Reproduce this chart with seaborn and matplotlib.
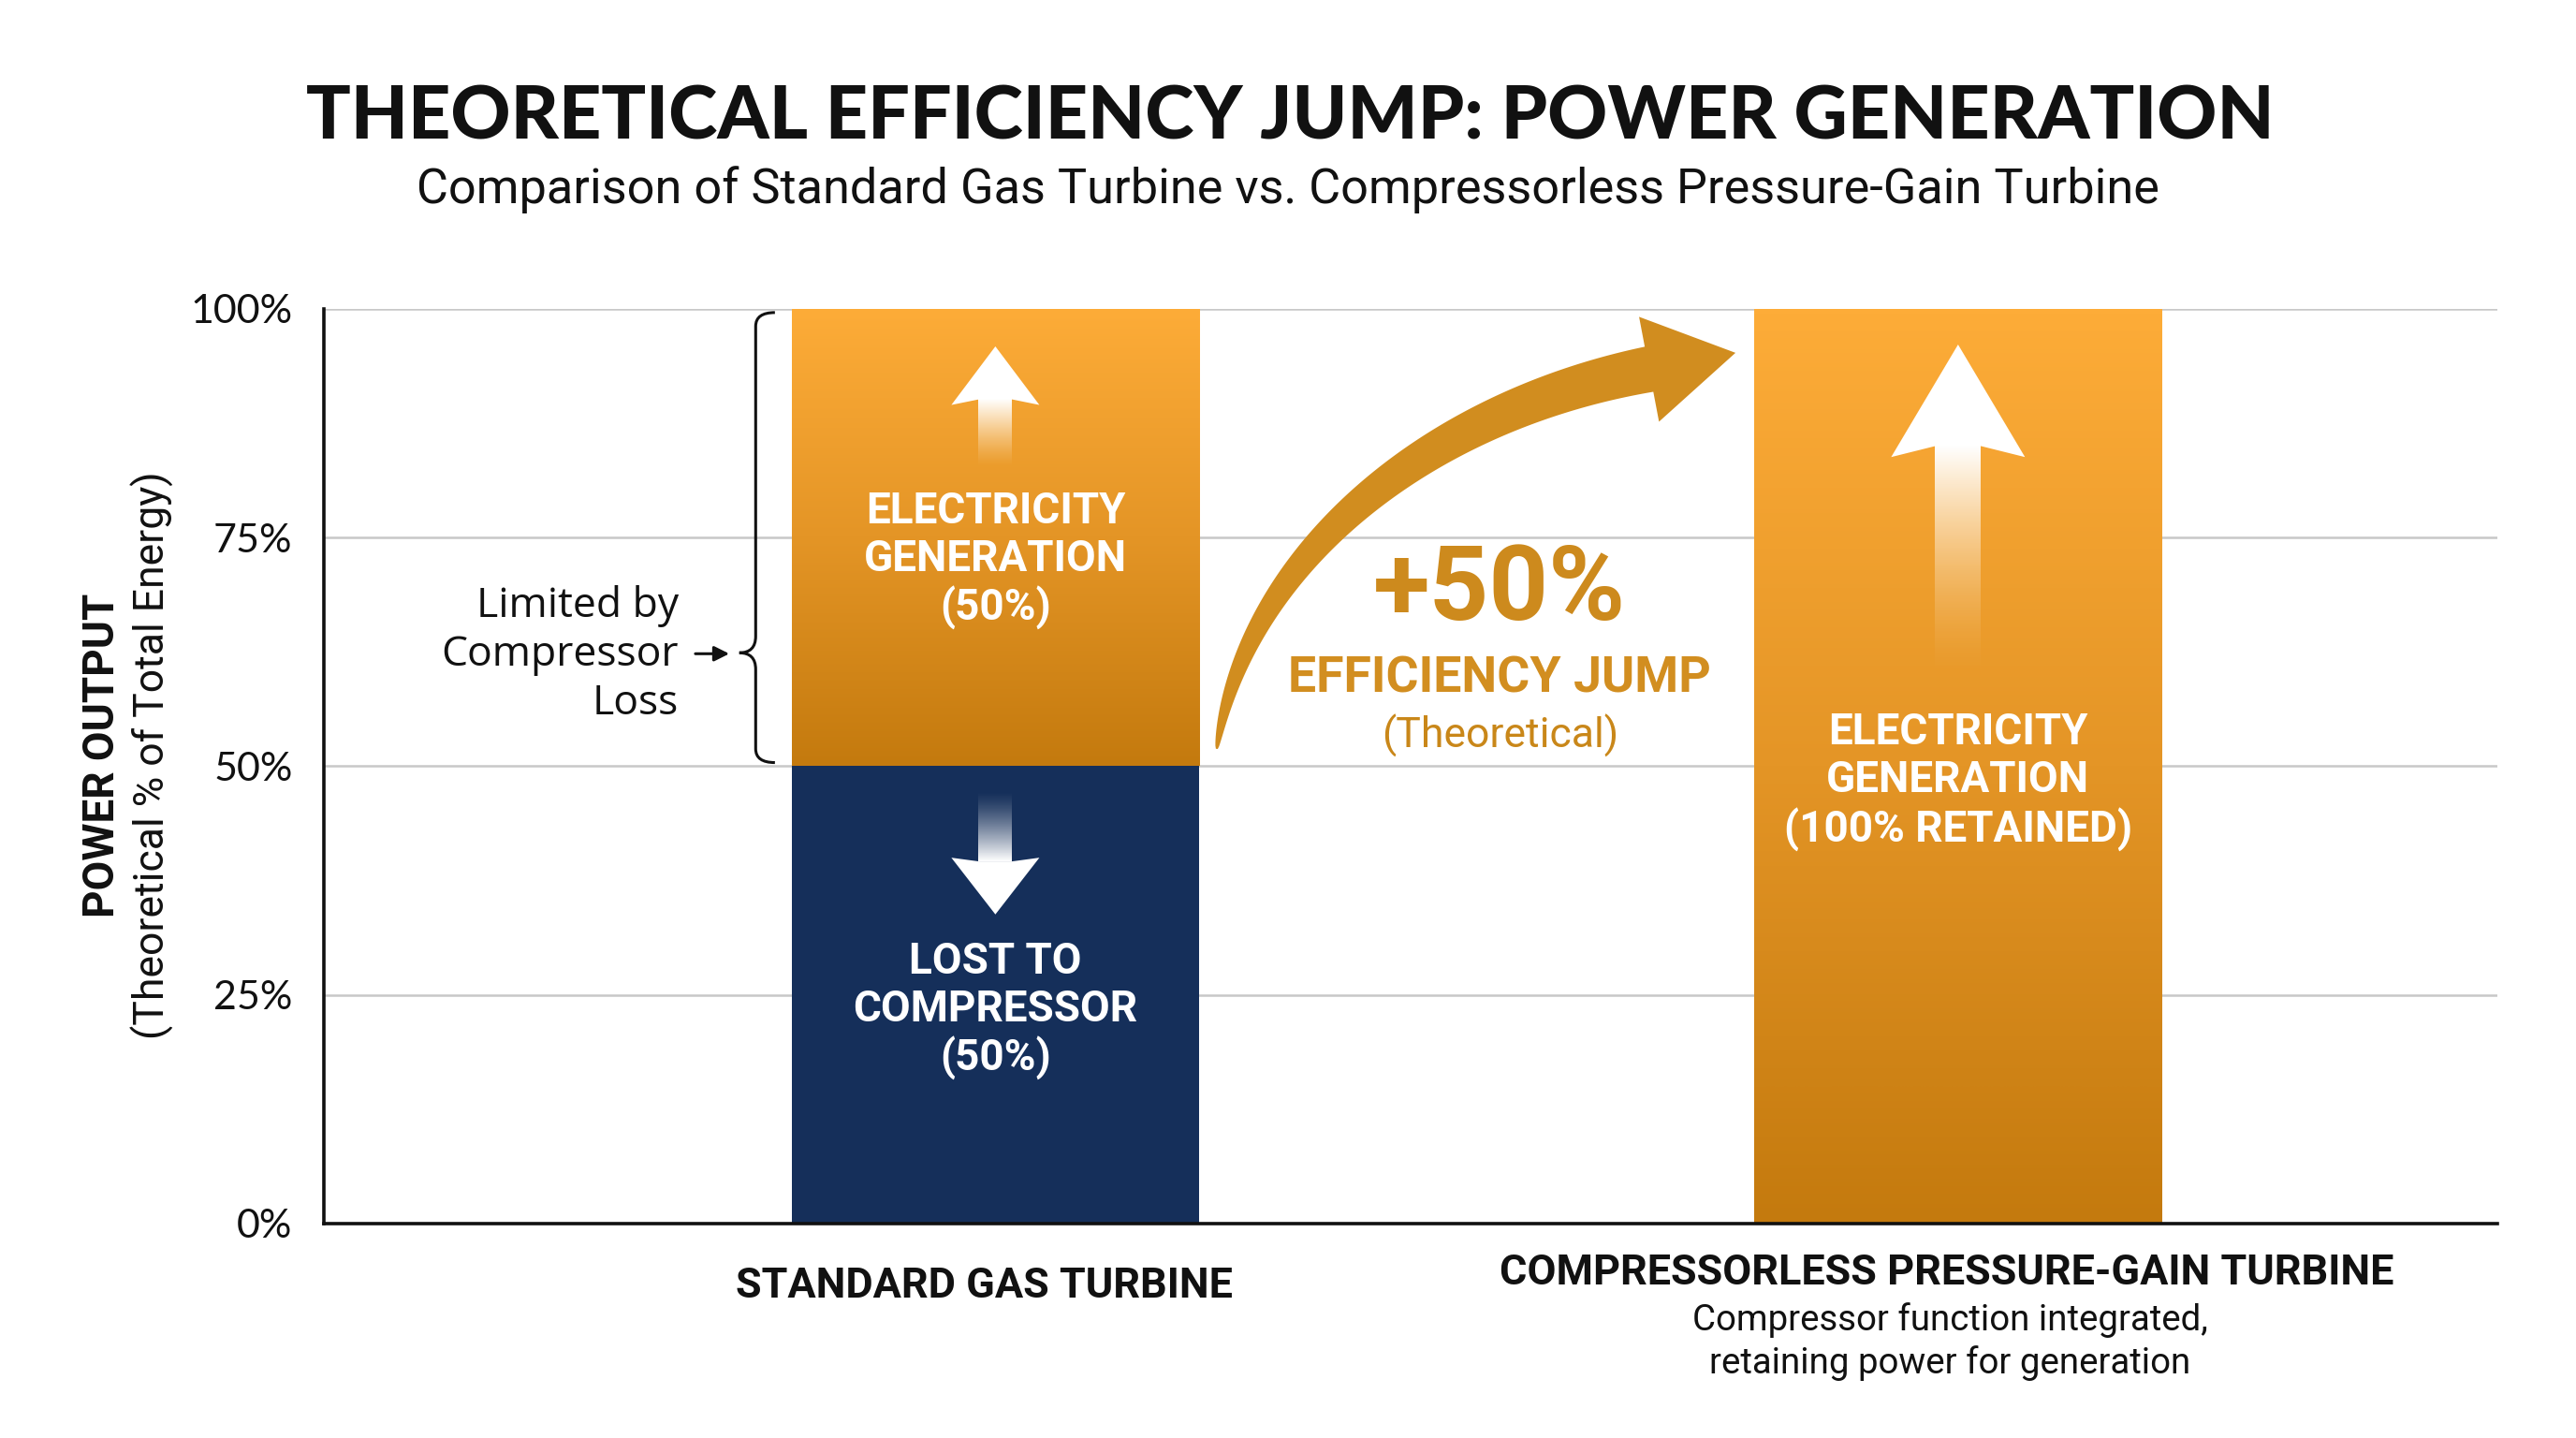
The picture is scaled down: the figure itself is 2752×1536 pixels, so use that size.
import numpy as np
import matplotlib
matplotlib.use("Agg")
import matplotlib.pyplot as plt
import matplotlib.transforms as mtransforms
import seaborn as sns
from matplotlib.colors import LinearSegmentedColormap
from matplotlib.patches import Polygon, PathPatch
from matplotlib.path import Path

# data
categories = ["STANDARD GAS TURBINE", "COMPRESSORLESS PRESSURE-GAIN TURBINE"]
sublabels = ["", "Compressor function integrated,\nretaining power for generation"]
lost_to_compressor = [50, 0]
electricity = [50, 100]
yticks = [0, 25, 50, 75, 100]
ytick_labels = ["0%", "25%", "50%", "75%", "100%"]
elec_texts = ["ELECTRICITY\nGENERATION\n(50%)", "ELECTRICITY\nGENERATION\n(100% RETAINED)"]
lost_texts = ["LOST TO\nCOMPRESSOR\n(50%)", ""]

ORANGE_TOP = "#FDAC38"
ORANGE_MID = "#E49526"
ORANGE_BOT = "#C47A0E"
NAVY = "#152F5A"
GOLD = "#CD8A1D"

sns.set_theme(style="white")
plt.rcParams["font.family"] = ["Roboto", "DejaVu Sans"]

fig = plt.figure(figsize=(13.76, 7.68), dpi=200)
ax = fig.add_axes([0.1257, 0.1491, 0.8437, 0.6361])

BAR_W = 0.423
sns.barplot(x=categories, y=lost_to_compressor, color=NAVY, saturation=1,
            width=BAR_W, linewidth=0, ax=ax, zorder=2)
n_lost = len(ax.patches)
sns.barplot(x=categories, y=electricity, bottom=lost_to_compressor, color=ORANGE_TOP,
            saturation=1, width=BAR_W, linewidth=0, ax=ax, zorder=2)
elec_bars = ax.patches[n_lost:]

# gradient fill on the orange bars
orange_cmap = LinearSegmentedColormap.from_list("orange", [ORANGE_BOT, ORANGE_MID, ORANGE_TOP])
grad = np.linspace(0, 1, 256).reshape(-1, 1)
for bar in elec_bars:
    x0, y0, w, h = bar.get_x(), bar.get_y(), bar.get_width(), bar.get_height()
    if h <= 0:
        continue
    im = ax.imshow(grad, extent=[x0, x0 + w, y0, y0 + h], origin="lower", cmap=orange_cmap,
                   aspect="auto", zorder=2.1, interpolation="bicubic")
    im.set_clip_path(bar)
ax.set_xlim(-0.6976, 1.560)
ax.set_ylim(0, 100)


def white_arrow(xc, y_tail, y_base, y_tip, shaft_hw, head_hw, notch=0.0, power=1.3):
    up = y_tip > y_base
    d = 1 if up else -1
    y_join = y_base + d * notch
    ramp = np.linspace(0, 1, 128) ** power
    if not up:
        ramp = ramp[::-1]
    rgba = np.ones((128, 1, 4))
    rgba[:, 0, 3] = ramp
    lo, hi = (y_tail, y_join) if up else (y_join, y_tail)
    ax.imshow(rgba, extent=[xc - shaft_hw, xc + shaft_hw, lo, hi], origin="lower",
              aspect="auto", zorder=3, interpolation="bicubic")
    head = [(xc - head_hw, y_base), (xc - shaft_hw, y_join), (xc + shaft_hw, y_join),
            (xc + head_hw, y_base), (xc, y_tip)]
    ax.add_patch(Polygon(head, closed=True, facecolor="white", edgecolor="none", zorder=3.1))


white_arrow(0, 82.7, 89.5, 95.9, 0.0175, 0.0457, notch=0.6)
white_arrow(0, 47.2, 40.0, 33.8, 0.0175, 0.0457, notch=0.4)
white_arrow(1, 59.4, 83.8, 96.1, 0.0238, 0.0695, notch=1.2, power=1.6)

# bar labels
for i, (et, lt) in enumerate(zip(elec_texts, lost_texts)):
    yc = 72.5 if lost_to_compressor[i] > 0 else 48.3
    ax.text(i, yc, et, ha="center", va="center", color="white", fontsize=16.5,
            fontweight="bold", linespacing=1.2, zorder=4)
    if lt:
        ax.text(i, 23.3, lt, ha="center", va="center", color="white", fontsize=16.5,
                fontweight="bold", linespacing=1.2, zorder=4)

# curved "+50%" arrow
ctrl = np.array([[0.230, 51.9], [0.259, 72.4], [0.444, 88.7], [0.679, 93.4]])
P = ax.transData.transform(ctrl)
t = np.linspace(0, 1, 200)[:, None]
B = (1 - t) ** 3 * P[0] + 3 * (1 - t) ** 2 * t * P[1] + 3 * (1 - t) * t ** 2 * P[2] + t ** 3 * P[3]
dB = 3 * (1 - t) ** 2 * (P[1] - P[0]) + 6 * (1 - t) * t * (P[2] - P[1]) + 3 * t ** 2 * (P[3] - P[2])
tang = dB / np.linalg.norm(dB, axis=1, keepdims=True)
norm = np.column_stack([-tang[:, 1], tang[:, 0]])
half_w = (2 + 47 * t[:, 0] ** 0.6) / 2
left = B + norm * half_w[:, None]
right = B - norm * half_w[:, None]
end, dvec, nvec = B[-1], tang[-1], norm[-1]
tip = end + dvec * 94
poly = np.vstack([left, end + nvec * 57, tip, end - nvec * 57, right[::-1]])
ax.add_patch(Polygon(ax.transData.inverted().transform(poly), closed=True,
                     facecolor="#D18D1F", edgecolor="none", zorder=3))

ax.text(0.524, 69.1, "+50%", ha="center", va="center", color=GOLD, fontsize=40,
        fontweight="bold", zorder=4)
ax.text(0.524, 59.6, "EFFICIENCY JUMP", ha="center", va="center", color="#D28E20",
        fontsize=19.3, fontweight="bold", zorder=4)
ax.text(0.524, 53.3, "(Theoretical)", ha="center", va="center", color="#C98719",
        fontsize=16, zorder=4)

# brace with note
xb, xh, xt = -0.249, -0.229, -0.266
y_top, y_bot, y_mid = 99.6, 50.4, 62.4
verts = [(xh, y_top), (xb, y_top), (xb, y_top - 1.5),
         (xb, y_mid + 1.8),
         (xb, y_mid), (xt, y_mid),
         (xb, y_mid), (xb, y_mid - 1.8),
         (xb, y_bot + 1.5),
         (xb, y_bot), (xh, y_bot)]
codes = [Path.MOVETO, Path.CURVE3, Path.CURVE3, Path.LINETO, Path.CURVE3, Path.CURVE3,
         Path.CURVE3, Path.CURVE3, Path.LINETO, Path.CURVE3, Path.CURVE3]
ax.add_patch(PathPatch(Path(verts, codes), facecolor="none", edgecolor="#111111", lw=1.1,
                       zorder=4, clip_on=False))
ax.annotate("", xy=(-0.271, 62.3), xytext=(-0.317, 62.3),
            arrowprops=dict(arrowstyle="-|>", color="#111111", lw=1.1, mutation_scale=12))
ax.text(-0.329, 62.2, "Limited by\nCompressor\nLoss", ha="right", va="center",
        multialignment="right", fontsize=16, family=["Open Sans", "DejaVu Sans"],
        color="#111111", linespacing=1.22)

# axes styling
ax.set_yticks(yticks, labels=ytick_labels)
ax.set_xticks([])
ax.set_xlabel("")
ax.set_ylabel("")
ax.yaxis.grid(True, color="#C8C8C8", lw=0.9)
ax.set_axisbelow(True)
ax.tick_params(axis="y", length=0, pad=12, labelsize=15.5, colors="#111111")
for lab in ax.get_yticklabels():
    lab.set_family(["Lato", "DejaVu Sans"])
for side in ["top", "right"]:
    ax.spines[side].set_visible(False)
for side in ["left", "bottom"]:
    ax.spines[side].set_color("#111111")
    ax.spines[side].set_linewidth(1.3)

# category labels
trans = mtransforms.blended_transform_factory(ax.transData, ax.transAxes)
for i, (cat, sub) in enumerate(zip(categories, sublabels)):
    y = -0.0542 if sub else -0.0686
    ax.text(i - 0.012, y, cat, transform=trans, ha="center", va="center", fontsize=16.2,
            fontweight="bold", color="#111111")
    if sub:
        ax.text(i - 0.008, -0.129, sub, transform=trans, ha="center", va="center",
                fontsize=13.8, color="#111111", linespacing=1.3)

# y axis label
fig.text(0.0396, 0.4746, "POWER OUTPUT", rotation=90, ha="center", va="center",
         fontsize=16.5, fontweight="bold", color="#111111")
fig.text(0.0592, 0.4746, "(Theoretical % of Total Energy)", rotation=90, ha="center",
         va="center", fontsize=16, color="#111111")

# titles
fig.text(0.501, 0.918, "THEORETICAL EFFICIENCY JUMP: POWER GENERATION", ha="center",
         va="center", fontsize=28.5, fontweight="black", family=["Lato", "DejaVu Sans"],
         color="#111111")
fig.text(0.5, 0.868, "Comparison of Standard Gas Turbine vs. Compressorless Pressure-Gain Turbine",
         ha="center", va="center", fontsize=18.8, color="#111111")

fig.savefig("out.png", dpi=200, facecolor="white")
